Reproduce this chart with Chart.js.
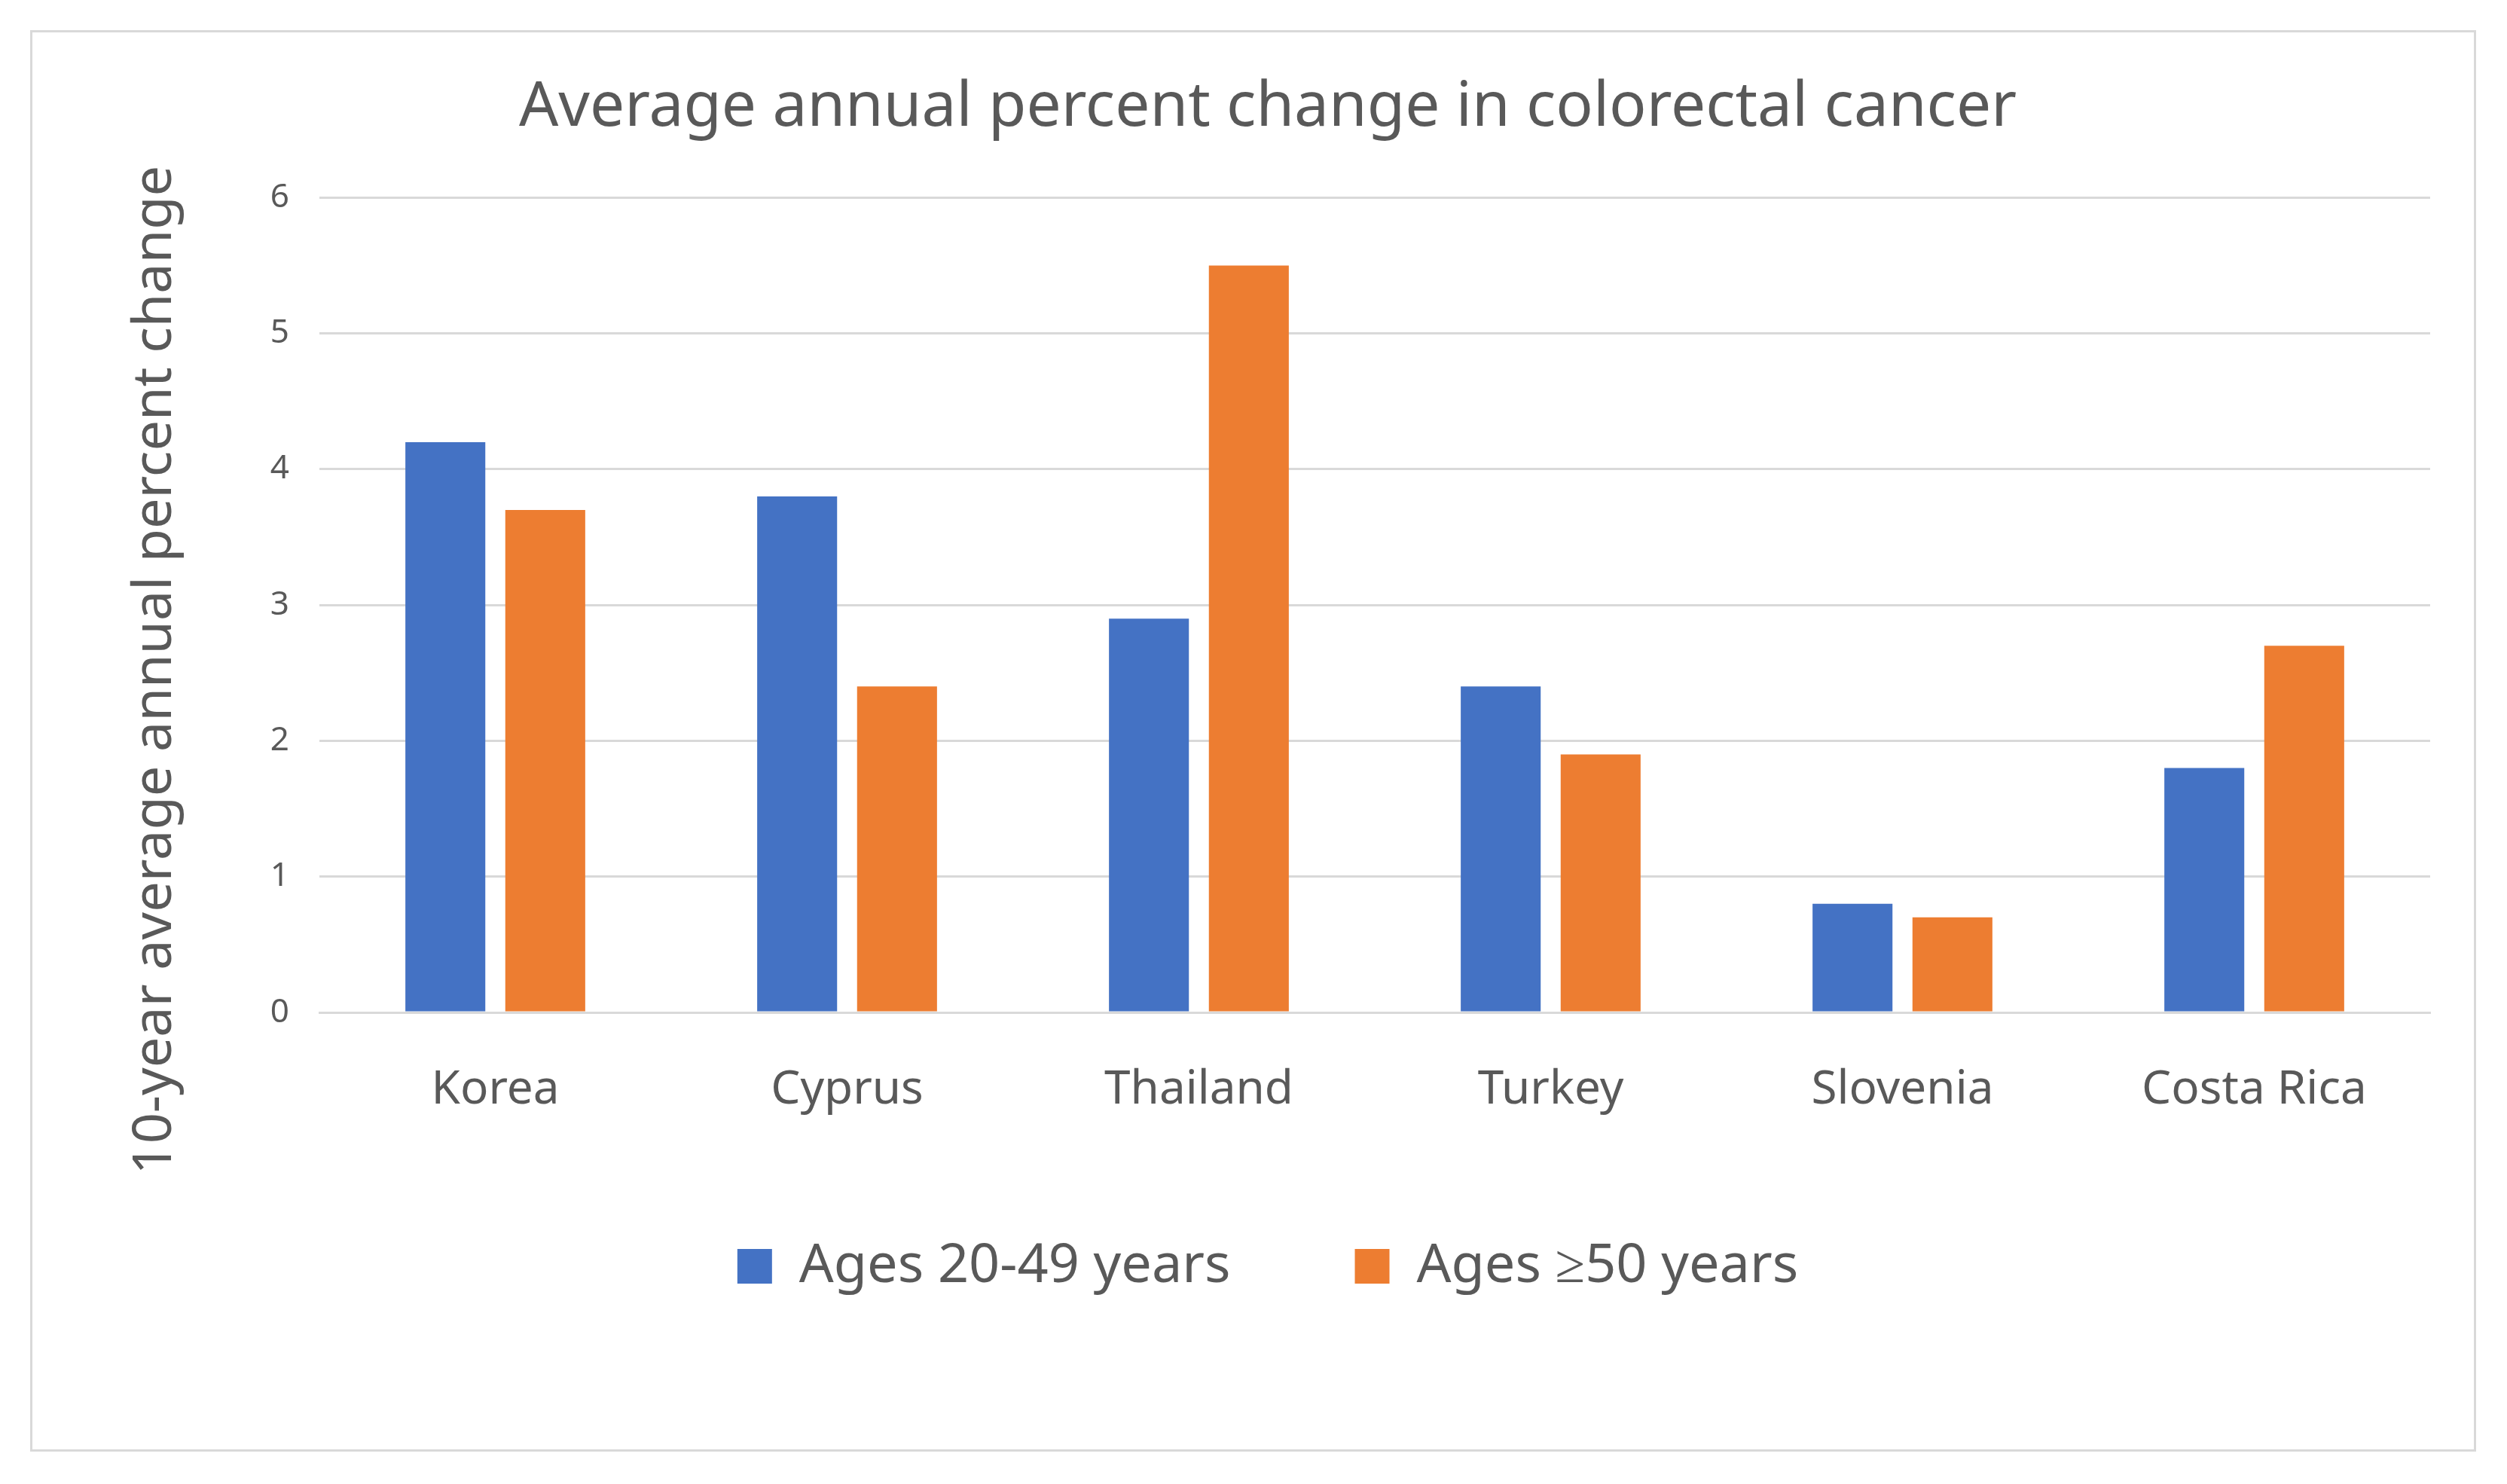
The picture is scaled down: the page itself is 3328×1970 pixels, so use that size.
<!DOCTYPE html>
<html>
<head>
<meta charset="utf-8">
<script src="https://cdn.jsdelivr.net/npm/chart.js@4.4.0/dist/chart.umd.min.js"></script>
<style>
  html, body { margin: 0; padding: 0; background: #fff; }
  #frame {
    position: absolute; left: 40px; top: 40px;
    width: 3241px; height: 1881px;
    border: 3px solid #d9d9d9;
  }
  #wrap { position: absolute; left: 0; top: 0; width: 3328px; height: 1970px; }
</style>
</head>
<body>
<div id="frame"></div>
<div id="wrap"><canvas id="chart"></canvas></div>
<script>
const countries = ['Korea', 'Cyprus', 'Thailand', 'Turkey', 'Slovenia', 'Costa Rica'];
const ages20to49 = [4.2, 3.8, 2.9, 2.4, 0.8, 1.8];
const ages50plus = [3.7, 2.4, 5.5, 1.9, 0.7, 2.7];
const seriesNames = ['Ages 20-49 years', 'Ages \u226550 years'];
const chartTitle = 'Average annual percent change in colorectal cancer';
const yTitle = '10-year average annual percent change';

const textColor = '#595959';

// y title drawn by hand so it can sit lower than the plot centre, like the original
const yTitlePlugin = {
  id: 'yTitle',
  afterDraw(chart) {
    const { ctx, chartArea } = chart;
    ctx.save();
    ctx.translate(206, chartArea.top + (chartArea.bottom - chartArea.top) * 0.58);
    ctx.rotate(-Math.PI / 2);
    ctx.fillStyle = textColor;
    ctx.font = '72px "Noto Sans"';
    ctx.textAlign = 'center';
    ctx.textBaseline = 'middle';
    ctx.fillText(yTitle, 0, 0);
    ctx.restore();
  }
};

new Chart(document.getElementById('chart'), {
  type: 'bar',
  data: {
    labels: countries,
    datasets: [
      { label: seriesNames[0], data: ages20to49, backgroundColor: '#4472C4' },
      { label: seriesNames[1], data: ages50plus, backgroundColor: '#ED7D31' }
    ]
  },
  options: {
    responsive: true,
    maintainAspectRatio: false,
    devicePixelRatio: 1,
    animation: false,
    categoryPercentage: 0.568,
    barPercentage: 0.8,
    layout: { padding: { left: 140, right: 102, top: 0, bottom: 243 } },
    plugins: {
      title: {
        display: true,
        text: chartTitle,
        color: textColor,
        font: { family: 'Noto Sans', size: 82, weight: 'normal' },
        padding: { top: 94, bottom: 70 }
      },
      legend: {
        position: 'bottom',
        labels: {
          color: textColor,
          font: { family: 'Noto Sans', size: 72 },
          boxWidth: 46,
          boxHeight: 46,
          padding: 165
        }
      },
      tooltip: { enabled: false }
    },
    scales: {
      x: {
        grid: { display: false },
        border: { color: '#d9d9d9', width: 3 },
        ticks: {
          color: textColor,
          font: { family: 'Noto Sans', size: 62 },
          padding: 58
        },
        afterFit: (scale) => { scale.height = 136; }
      },
      y: {
        min: 0,
        max: 6,
        ticks: {
          stepSize: 1,
          color: textColor,
          font: { family: 'Noto Sans', size: 44 },
          padding: 40
        },
        grid: { color: '#d9d9d9', lineWidth: 3, drawTicks: false },
        border: { display: false },
        afterFit: (scale) => { scale.width = 284; }
      }
    }
  },
  plugins: [yTitlePlugin]
});
</script>
</body>
</html>
